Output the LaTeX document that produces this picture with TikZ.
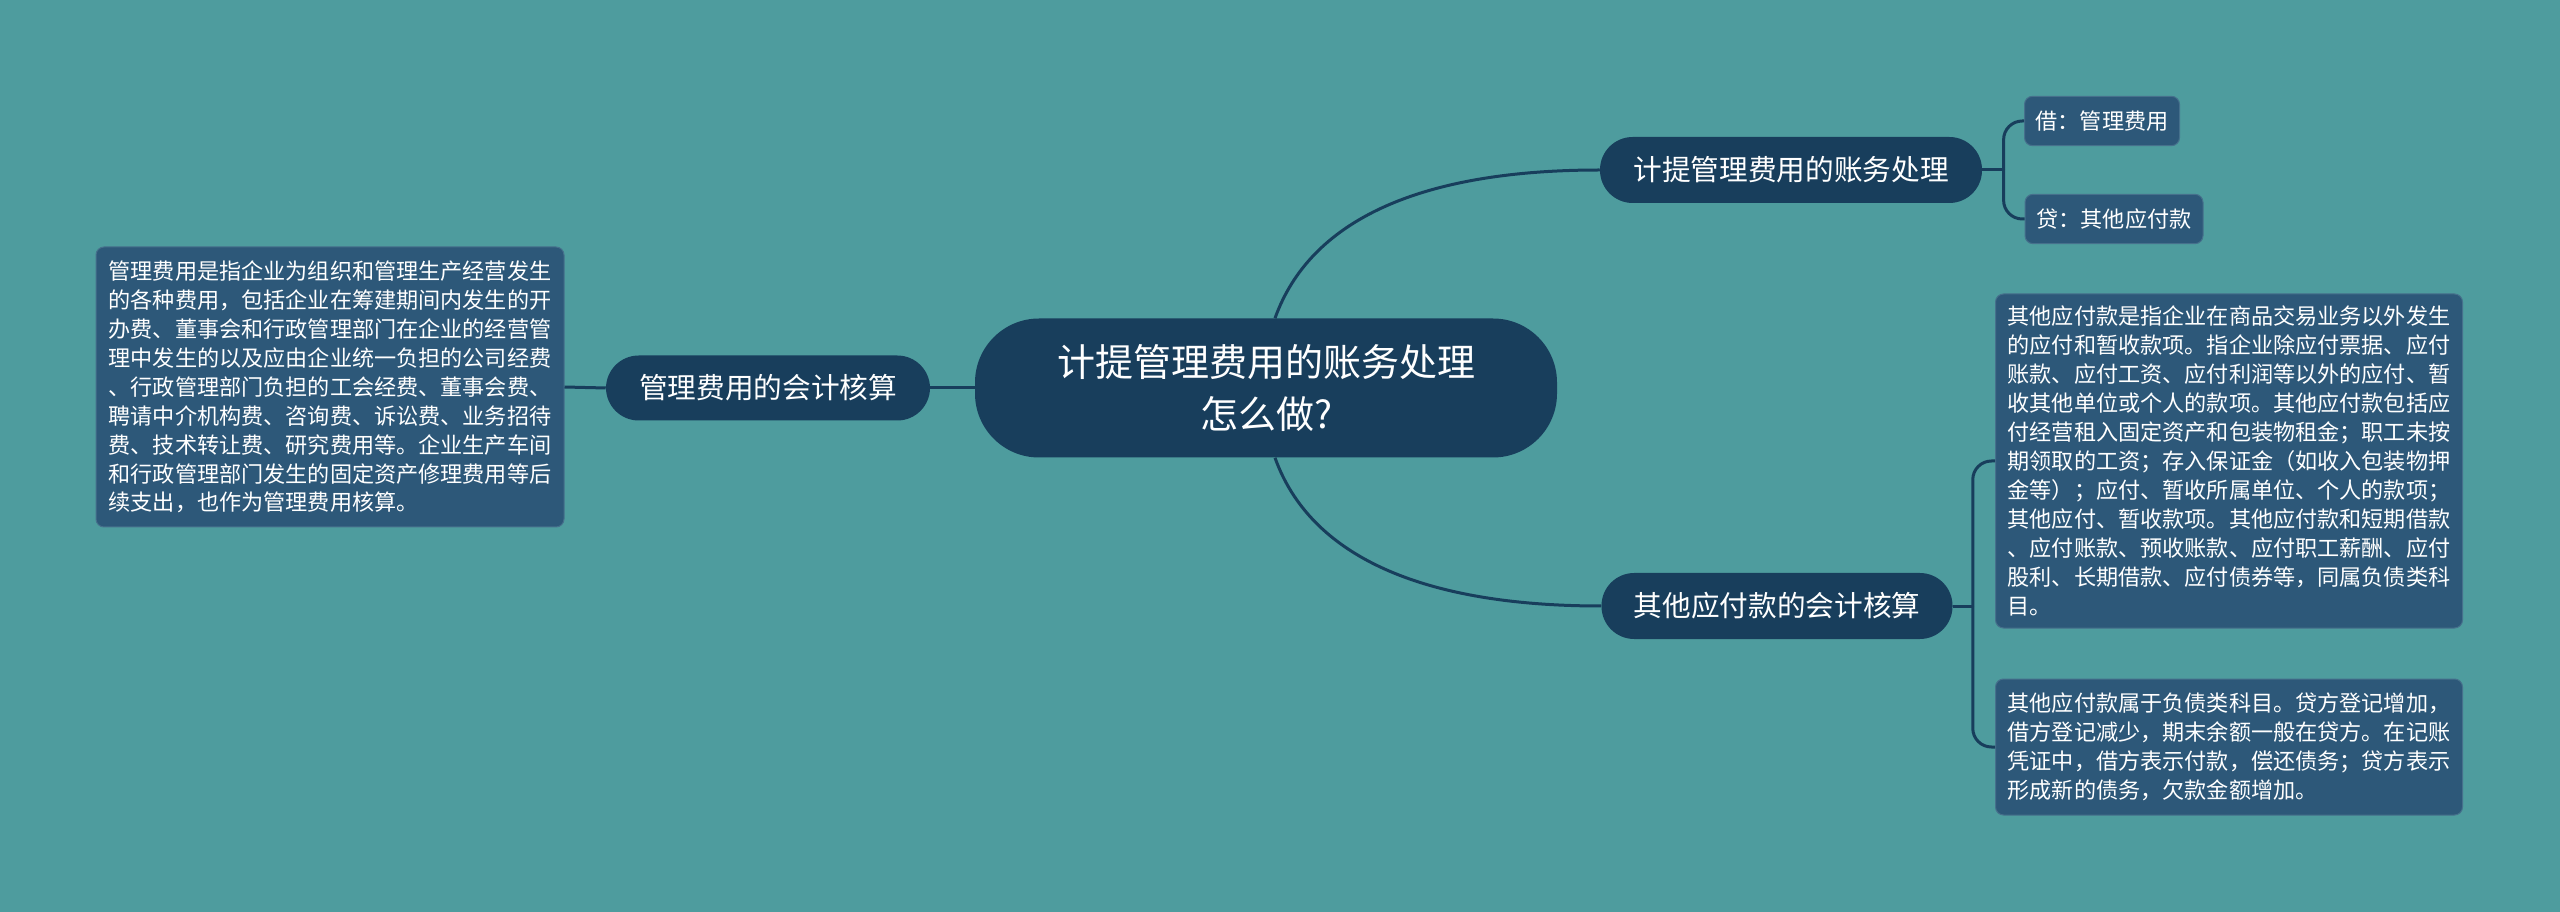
\documentclass[tikz,border=0pt]{standalone}
\usepackage{fontspec}
\setmainfont{Noto Sans CJK SC}
\definecolor{bgteal}{RGB}{78,156,158}
\definecolor{navy}{RGB}{24,62,92}
\definecolor{leaffill}{RGB}{45,88,121}
\definecolor{leafline}{RGB}{70,112,140}
\tikzset{
  rootnode/.style={fill=navy, rounded corners=48pt, inner sep=0pt, text=white, align=center,
    minimum width=436.5pt, minimum height=104.25pt, font=\fontsize{28.5pt}{39pt}\selectfont},
  branchnode/.style={fill=navy, rounded corners=24.5pt, inner sep=0pt, text=white, align=center,
    minimum height=49.5pt, font=\fontsize{21.5pt}{26pt}\selectfont},
  leafnode/.style={fill=leaffill, draw=leafline, line width=0.75pt, rounded corners=6pt, inner sep=0pt,
    text=white, align=left, font=\fontsize{16.6pt}{21.7pt}\selectfont},
  link/.style={draw=navy, line width=2.25pt},
  brace/.style={draw=navy, line width=2.25pt, rounded corners=14pt}
}
\begin{document}
\begin{tikzpicture}[x=0.75pt,y=-0.75pt]
\fill[bgteal] (0,0) rectangle (2560,912);
\useasboundingbox (0,0) rectangle (2560,912);

% nodes
\node[rootnode] (C) at (1266,388) {计提管理费用的账务处理\\怎么做?};
\node[branchnode, minimum width=286.5pt] (A) at (1791,170) {计提管理费用的账务处理};
\node[branchnode, minimum width=263.25pt] (B) at (1777,606) {其他应付款的会计核算};
\node[branchnode, minimum width=243pt, minimum height=48.75pt] (L) at (768,388) {管理费用的会计核算};

\node[leafnode, minimum width=116.25pt, minimum height=37pt] (J) at (2102,121) {借：管理费用};
\node[leafnode, minimum width=133.5pt, minimum height=37pt] (D) at (2114,219) {贷：其他应付款};

\node[leafnode, minimum width=351pt, minimum height=210pt] (LB) at (330,387) {管理费用是指企业为组织和管理生产经营发生\\的各种费用，包括企业在筹建期间内发生的开\\办费、董事会和行政管理部门在企业的经营管\\理中发生的以及应由企业统一负担的公司经费\\、行政管理部门负担的工会经费、董事会费、\\聘请中介机构费、咨询费、诉讼费、业务招待\\费、技术转让费、研究费用等。企业生产车间\\和行政管理部门发生的固定资产修理费用等后\\续支出，也作为管理费用核算。};

\node[leafnode, minimum width=350.25pt, minimum height=250.5pt] (R1) at (2229,461) {其他应付款是指企业在商品交易业务以外发生\\的应付和暂收款项。指企业除应付票据、应付\\账款、应付工资、应付利润等以外的应付、暂\\收其他单位或个人的款项。其他应付款包括应\\付经营租入固定资产和包装物租金；职工未按\\期领取的工资；存入保证金（如收入包装物押\\金等）；应付、暂收所属单位、个人的款项；\\其他应付、暂收款项。其他应付款和短期借款\\、应付账款、预收账款、应付职工薪酬、应付\\股利、长期借款、应付债券等，同属负债类科\\目。};

\node[leafnode, minimum width=350.25pt, minimum height=102pt] (R2) at (2229,747) {其他应付款属于负债类科目。贷方登记增加，\\借方登记减少，期末余额一般在贷方。在记账\\凭证中，借方表示付款，偿还债务；贷方表示\\形成新的债务，欠款金额增加。};

% connectors
\draw[link] ([xshift=6.75pt]C.north) .. controls +(35,-98) and +(-180,0) .. (A.west);
\draw[link] ([xshift=6.75pt]C.south) .. controls +(35,98) and +(-180,0) .. (B.west);
\draw[link] (L.east) -- (C.west);
\draw[link] (LB.east) -- (L.west);

\coordinate (ja) at ([xshift=16pt]A.east);
\draw[link] (A.east) -- (ja);
\draw[brace] (ja) |- (J.west);
\draw[brace] (ja) |- (D.west);

\coordinate (jb) at ([xshift=15pt]B.east);
\draw[link] (B.east) -- (jb);
\draw[brace] (jb) |- (R1.west);
\draw[brace] (jb) |- (R2.west);
\end{tikzpicture}
\end{document}
